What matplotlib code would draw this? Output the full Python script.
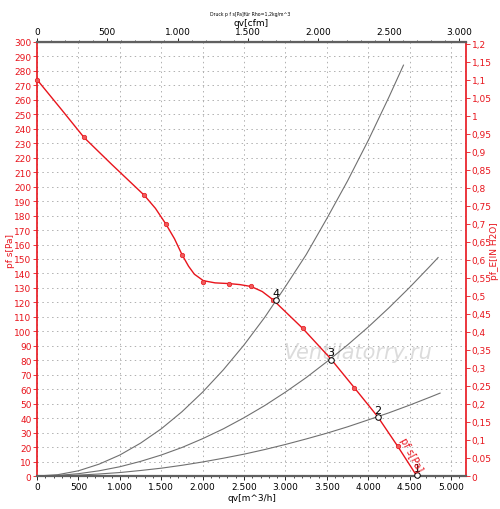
import matplotlib
matplotlib.use("Agg")
import matplotlib.pyplot as plt
from matplotlib.ticker import MultipleLocator, FuncFormatter

# ---- data ----
# fan curve p_sf [Pa] vs qv [m^3/h]
fan_q = [0, 300, 568, 900, 1296, 1430, 1558, 1660, 1751, 1830, 1900, 2009, 2150, 2319, 2450, 2585, 2720, 2846, 3209, 3547, 3832, 4114, 4356, 4586]
fan_p = [274, 253, 234, 215.5, 194, 185, 174, 164, 153, 145, 139.5, 135, 133.5, 133, 132.3, 131, 127.5, 122, 102, 81, 61, 41, 20.5, 0]
# measured markers on the fan curve
mark_q = [0, 568, 1296, 1558, 1751, 2009, 2319, 2585, 2846, 3209, 3832, 4114, 4356]
mark_p = [274, 234, 194, 174, 153, 134, 133, 131, 122, 102, 61, 41, 20.5]

# system curves (gray)
sysA_q = [0, 250, 500, 750, 1000, 1250, 1500, 1750, 2000, 2250, 2500, 2750, 3000, 3250, 3500, 3750, 4000, 4250, 4425]
sysA_p = [0, 0.9, 3.6, 8.2, 14.5, 22.7, 32.6, 44.4, 58, 73.4, 90.6, 109.7, 131, 153, 178, 204, 232, 262, 284]
sysB_q = [0, 250, 500, 750, 1000, 1250, 1500, 1750, 2000, 2250, 2500, 2750, 3000, 3250, 3500, 3750, 4000, 4250, 4500, 4750, 4843]
sysB_p = [0, 0.4, 1.6, 3.6, 6.4, 10.1, 14.5, 19.7, 25.8, 32.6, 40.3, 48.7, 58, 68, 79, 90.6, 103, 116.3, 130.4, 145.3, 151]
sysC_q = [0, 250, 500, 750, 1000, 1250, 1500, 1750, 2000, 2250, 2500, 2750, 3000, 3250, 3500, 3750, 4000, 4250, 4500, 4750, 4867]
sysC_p = [0, 0.15, 0.6, 1.4, 2.4, 3.8, 5.4, 7.4, 9.7, 12.3, 15.1, 18.3, 21.8, 25.6, 29.6, 34, 38.8, 43.7, 49, 54.6, 57.3]

# operating points
op_q = [4590, 4118, 3551, 2880]
op_p = [0.5, 40.8, 80.5, 121.5]
op_lab = ["1", "2", "3", "4"]

title = "Druck p f s[Pa]für Rho=1,2kg/m^3"
x_label = "qv[m^3/h]"
top_label = "qv[cfm]"
left_label = "pf s[Pa]"
right_label = "pf_E[IN H2O]"
curve_label = "pf s[Pa]"
watermark = "Ventilatorry.ru"

RED = "#e8141c"
GRAY = "#707070"

plt.rcParams["font.family"] = ["DejaVu Sans"]
plt.rcParams["font.size"] = 6.5

fig = plt.figure(figsize=(5.0, 5.1), dpi=100)
ax = fig.add_axes([0.074, 0.0647, 0.858, 0.851])

XMAX = 5180
ax.set_xlim(0, XMAX)
ax.set_ylim(0, 300)

# grid
ax.xaxis.set_major_locator(MultipleLocator(500))
ax.xaxis.set_minor_locator(MultipleLocator(100))
ax.yaxis.set_major_locator(MultipleLocator(10))
ax.grid(True, which="major", color="#b0b0b0", linestyle=(0, (1.5, 3.5)), linewidth=0.7)

def thou(v, pos=None):
    v = int(round(v))
    return f"{v:,}".replace(",", ".")

ax.xaxis.set_major_formatter(FuncFormatter(thou))
ax.tick_params(axis="x", colors="black", labelsize=6.5, length=3, width=0.6, pad=1.5)
ax.tick_params(axis="x", which="minor", length=1.5, width=0.5)
ax.tick_params(axis="y", colors=RED, labelsize=6.5, length=3, width=0.6, pad=1)

# spines
ax.spines["left"].set_color(RED)
ax.spines["left"].set_linewidth(1.2)
ax.spines["right"].set_color(RED)
ax.spines["right"].set_linewidth(1.2)
ax.spines["bottom"].set_color("#606060")
ax.spines["bottom"].set_linewidth(1.6)
ax.spines["top"].set_color("#606060")
ax.spines["top"].set_linewidth(1.6)

# system curves
ax.plot(sysA_q, sysA_p, color=GRAY, lw=0.8, zorder=2)
ax.plot(sysB_q, sysB_p, color=GRAY, lw=0.8, zorder=2)
ax.plot(sysC_q, sysC_p, color=GRAY, lw=0.8, zorder=2)

# watermark
ax.text(3870, 86, watermark, color="#dcdcdc", fontsize=15, style="italic",
        ha="center", va="center", zorder=1)

# fan curve
ax.plot(fan_q, fan_p, color=RED, lw=1.0, zorder=3, clip_on=False)
ax.plot(mark_q, mark_p, linestyle="none", marker="o", ms=3.2, color="#f05a5a",
        markeredgecolor=RED, markeredgewidth=0.5, zorder=4, clip_on=False)

# operating points
ax.plot(op_q, op_p, linestyle="none", marker="o", ms=4, markerfacecolor="white",
        markeredgecolor="black", markeredgewidth=0.7, zorder=5, clip_on=False)
for q, p, lab in zip(op_q, op_p, op_lab):
    ax.annotate(lab, (q, p), xytext=(0, 1.5), textcoords="offset points",
                ha="center", va="bottom", fontsize=8, color="black", zorder=6)

# curve label
ax.text(4520, 15, curve_label, color=RED, fontsize=7, rotation=-62,
        ha="center", va="center", zorder=6)

ax.set_xlabel(x_label, fontsize=6.5, labelpad=1)
ax.set_ylabel(left_label, color=RED, fontsize=6.5)
ax.yaxis.set_label_coords(-0.052, 0.52)

# right axis in inches of water
PA_PER_INH2O = 249.089
ax2 = ax.twinx()
ax2.set_ylim(0, 300 / PA_PER_INH2O)
ax2.yaxis.set_major_locator(MultipleLocator(0.05))

def comma(v, pos=None):
    s = f"{v:.2f}".rstrip("0").rstrip(".")
    return s.replace(".", ",")

ax2.yaxis.set_major_formatter(FuncFormatter(comma))
ax2.tick_params(axis="y", colors=RED, labelsize=6.5, length=3, width=0.6, pad=1)
for sp in ax2.spines.values():
    sp.set_visible(False)
ax2.set_ylabel(right_label, color=RED, fontsize=6.5, rotation=90)
ax2.yaxis.set_label_coords(1.057, 0.52)

# top axis in cfm
M3H_PER_CFM = 1.699
top = ax.secondary_xaxis("top", functions=(lambda x: x / M3H_PER_CFM, lambda c: c * M3H_PER_CFM))
top.xaxis.set_major_locator(MultipleLocator(500))
top.xaxis.set_minor_locator(MultipleLocator(100))
top.xaxis.set_major_formatter(FuncFormatter(thou))
top.tick_params(axis="x", labelsize=6.5, length=3, width=0.6, pad=1)
top.tick_params(axis="x", which="minor", length=1.5, width=0.5)
top.set_xlabel(top_label, fontsize=6.5, labelpad=1.5)

fig.text(0.5, 0.971, title, fontsize=3.3, ha="center", va="center")

fig.savefig("out.png", dpi=100)
